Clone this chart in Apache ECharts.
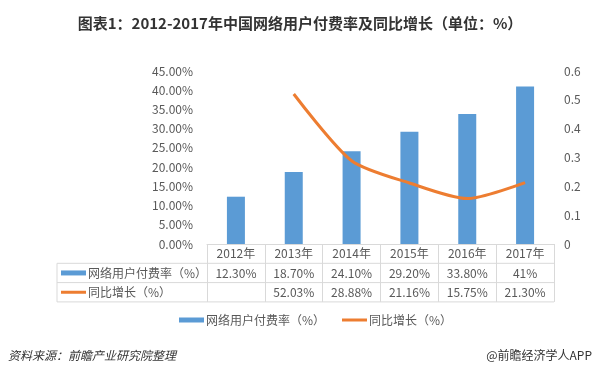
<!DOCTYPE html>
<html>
<head>
<meta charset="utf-8">
<script src="https://cdn.jsdelivr.net/npm/echarts@6/dist/echarts.min.js"></script>
<style>
  html, body { margin: 0; padding: 0; background: #fff; }
  #main { width: 600px; height: 377px; }
</style>
</head>
<body>
<div id="main"></div>
<script>
// data
const years = ['2012年', '2013年', '2014年', '2015年', '2016年', '2017年'];
const payRate = [12.3, 18.7, 24.1, 29.2, 33.8, 41];            // %
const growth = [null, 0.5203, 0.2888, 0.2116, 0.1575, 0.2130]; // 同比
const rateName = '网络用户付费率（%）';
const growthName = '同比增长（%）';

const BLUE = '#5B9BD5';
const ORANGE = '#ED7D31';
const GRID_LINE = '#d9d9d9';
const TXT = '#595959';
const FONT = '"Microsoft YaHei", "Noto Sans CJK SC", sans-serif';

// table layout
const gridLeft = 207, gridRight = 46, gridTop = 71, axisY = 244;
const rowH = 19.3;
const tableLeft = 57;
const tableRight = 600 - gridRight;

const fmtRate = v => Number.isInteger(v) ? v + '%' : v.toFixed(2) + '%';
const fmtGrowth = v => v == null ? ' ' : (v * 100).toFixed(2) + '%';

const chart = echarts.init(document.getElementById('main'));

const row1 = axisY + rowH, row2 = axisY + rowH * 2, row3 = axisY + rowH * 3;

const tableLines = [row1, row2, row3].map(y => ({
  type: 'line',
  shape: { x1: tableLeft, y1: y, x2: tableRight, y2: y },
  style: { stroke: GRID_LINE, lineWidth: 1 }
}));

// key + label, used for the table row heads and the bottom legend
function keyItem(x, y, kind, text) {
  const key = kind === 'bar'
    ? { type: 'rect', shape: { x: x, y: y - 2.5, width: 25, height: 5 }, style: { fill: BLUE } }
    : { type: 'line', shape: { x1: x, y1: y, x2: x + 25, y2: y }, style: { stroke: ORANGE, lineWidth: 3 } };
  return [key, {
    type: 'text', x: x + 27, y: y,
    style: { text: text, font: '12px ' + FONT, fill: TXT, verticalAlign: 'middle' }
  }];
}

chart.setOption({
  backgroundColor: '#fff',
  textStyle: { fontFamily: FONT },
  title: {
    text: '图表1：2012-2017年中国网络用户付费率及同比增长（单位：%）',
    left: 'center',
    top: 11,
    textStyle: { fontSize: 15, fontWeight: 'bold', color: '#333', fontFamily: FONT }
  },
  grid: { left: gridLeft, right: gridRight, top: gridTop, bottom: 377 - axisY },
  xAxis: {
    type: 'category',
    data: years,
    axisLine: { lineStyle: { color: GRID_LINE } },
    axisTick: { show: true, length: rowH * 3, lineStyle: { color: GRID_LINE } },
    axisLabel: {
      margin: 0,
      interval: 0,
      formatter: (val, i) => `{y|${val}}\n{v|${fmtRate(payRate[i])}}\n{v|${fmtGrowth(growth[i])}}`,
      rich: {
        y: { fontSize: 12, color: TXT, lineHeight: rowH, fontFamily: FONT },
        v: { fontSize: 12, color: TXT, lineHeight: rowH, fontFamily: FONT }
      }
    }
  },
  yAxis: [
    {
      type: 'value',
      min: 0, max: 45, interval: 5,
      splitLine: { show: false },
      axisLine: { show: false },
      axisTick: { show: false },
      axisLabel: { margin: 14, fontSize: 12, color: TXT, formatter: v => v.toFixed(2) + '%' }
    },
    {
      type: 'value',
      min: 0, max: 0.6, interval: 0.1,
      splitLine: { show: false },
      axisLine: { show: false },
      axisTick: { show: false },
      axisLabel: { margin: 10, fontSize: 12, color: TXT }
    }
  ],
  series: [
    {
      name: rateName,
      type: 'bar',
      data: payRate,
      barWidth: 18,
      itemStyle: { color: BLUE }
    },
    {
      name: growthName,
      type: 'line',
      yAxisIndex: 1,
      data: growth,
      smooth: 0.25,
      symbol: 'none',
      lineStyle: { color: ORANGE, width: 3 },
      itemStyle: { color: ORANGE }
    }
  ],
  graphic: [
    ...tableLines,
    {
      type: 'line',
      shape: { x1: tableLeft, y1: row1, x2: tableLeft, y2: row3 },
      style: { stroke: GRID_LINE, lineWidth: 1 }
    },
    ...keyItem(61, row1 + rowH / 2, 'bar', rateName),
    ...keyItem(61, row2 + rowH / 2, 'line', growthName),
    // bottom legend
    ...keyItem(179, 320, 'bar', rateName),
    ...keyItem(342, 320, 'line', growthName),
    {
      type: 'text',
      x: 8, y: 355,
      style: { text: '资料来源：前瞻产业研究院整理', font: 'italic 12px ' + FONT, fill: '#333', verticalAlign: 'middle' }
    },
    {
      type: 'text',
      x: 592, y: 355,
      style: { text: '@前瞻经济学人APP', font: '12px ' + FONT, fill: '#333', align: 'right', verticalAlign: 'middle' }
    }
  ]
});
</script>
</body>
</html>
